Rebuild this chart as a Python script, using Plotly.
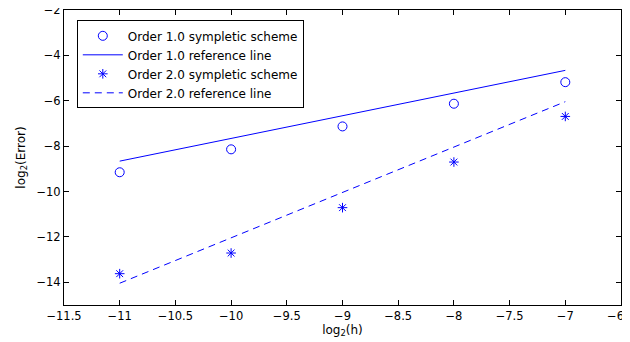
import plotly.graph_objects as go

log2h = [-11, -10, -9, -8, -7]
order1_err = [-9.15, -8.14, -7.13, -6.13, -5.18]
order2_err = [-13.62, -12.71, -10.71, -8.70, -6.69]
ref1 = [-8.66, -7.66, -6.66, -5.66, -4.66]
ref2 = [-14.04, -12.04, -10.04, -8.04, -6.04]

FONT = "DejaVu Sans, Liberation Sans, Arial, sans-serif"
blue = "#0000ff"
fig = go.Figure()
fig.add_trace(go.Scatter(x=log2h, y=order1_err, mode="markers", name="Order 1.0 sympletic scheme",
                         marker=dict(symbol="circle-open", size=9, color=blue, line=dict(width=1))))
fig.add_trace(go.Scatter(x=log2h, y=ref1, mode="lines", name="Order 1.0 reference line",
                         line=dict(color=blue, width=1)))
fig.add_trace(go.Scatter(x=log2h, y=order2_err, mode="markers", name="Order 2.0 sympletic scheme",
                         marker=dict(symbol="asterisk-open", size=8, color=blue, line=dict(width=1, color=blue))))
fig.add_trace(go.Scatter(x=log2h, y=ref2, mode="lines", name="Order 2.0 reference line",
                         line=dict(color=blue, width=1, dash="7px,5px")))

axis_common = dict(showgrid=False, zeroline=False, showline=True, linecolor="black", linewidth=1,
                   mirror="ticks", ticks="inside", ticklen=5, tickcolor="black", automargin=False,
                   ticklabeloverflow="allow",
                   tickfont=dict(family=FONT, size=11.5, color="black"))
fig.update_xaxes(range=[-11.5, -6.5], dtick=0.5, tick0=-11.5,
                 title=dict(text="log<sub>2</sub>(h)", standoff=2,
                            font=dict(family=FONT, size=12, color="black")),
                 **axis_common)
fig.update_yaxes(range=[-15, -2], dtick=2, tick0=-14,
                 title=dict(text="log<sub>2</sub>(Error)", standoff=8,
                            font=dict(family=FONT, size=12, color="black")),
                 **axis_common)
fig.update_layout(
    width=622, height=334,
    margin=dict(l=56, r=9, t=2, b=37),
    plot_bgcolor="white", paper_bgcolor="white",
    font=dict(family=FONT, size=12, color="black"),
    legend=dict(x=0.023, y=0.965, xanchor="left", yanchor="top",
                bordercolor="black", borderwidth=1, bgcolor="white",
                font=dict(family=FONT, size=12), itemwidth=40, tracegroupgap=0),
    showlegend=True,
)
fig.write_html("out.html")
